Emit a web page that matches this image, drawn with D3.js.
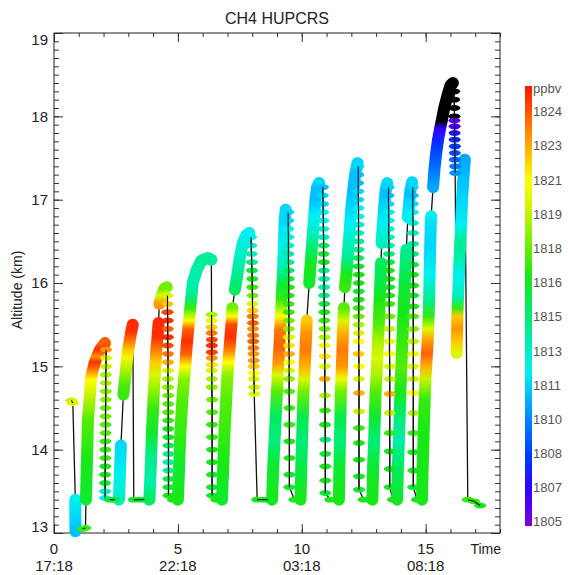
<!DOCTYPE html>
<html>
<head>
<meta charset="utf-8">
<script src="https://cdn.jsdelivr.net/npm/d3@7"></script>
<style>
  body { margin: 0; background: #fff; }
  svg { display: block; }
  text { font-family: "Liberation Sans", Arial, sans-serif; }
</style>
</head>
<body>
<div id="chart"></div>
<script>
// CH4 HUPCRS - flight curtain, altitude vs time coloured by CH4 (ppbv)

// each leg is a list of [time (h since 17:18), altitude (km), CH4 (ppbv)]
// dense legs are drawn as solid columns, sparse legs as single markers
const lvl0 = [[0.7,14.59,1819.5],[0.76,14.56,1820]];
const dsc0 = [[0.86,13.4,1812],[0.86,13.2,1811.5],[0.87,13.02,1811]];
const lvl1 = [[1.15,13.05,1817],[1.27,13.06,1817]];
const asc1 = [[1.29,13.4,1816],[1.33,13.88,1816.5],[1.37,14.36,1817.5],[1.45,14.66,1819.5],[1.49,14.84,1821],[1.57,14.96,1823.5],[1.65,15.05,1825],[1.74,15.12,1823],[1.86,15.2,1825],[2.06,15.28,1824]];
const dsc1 = [[2.1,15.2,1823],[2.1,15.1,1820],[2.1,15.0,1819.5],[2.09,14.9,1819],[2.09,14.8,1819],[2.09,14.7,1818.5],[2.09,14.6,1818.5],[2.08,14.5,1818],[2.08,14.4,1818],[2.08,14.3,1817.5],[2.08,14.2,1817.5],[2.07,14.1,1817],[2.07,14.0,1817],[2.07,13.9,1817],[2.07,13.8,1816.5],[2.06,13.7,1816.5],[2.06,13.6,1816],[2.06,13.5,1813],[2.06,13.42,1812]];
const lvl2 = [[2.25,13.4,1816],[2.45,13.4,1815.5]];
const asc2a = [[2.62,13.4,1813],[2.66,13.7,1812],[2.7,14.05,1811.5]];
const asc2b = [[2.8,14.66,1817],[2.85,14.8,1817.5],[2.9,14.95,1819],[2.95,15.1,1820.5],[3.0,15.2,1822],[3.05,15.3,1823.5],[3.12,15.42,1825],[3.18,15.5,1825]];
const lvl3 = [[3.22,13.4,1816],[3.45,13.4,1816],[3.65,13.4,1815.5]];
const asc3a = [[3.85,13.4,1815],[3.88,13.6,1813.5],[3.92,13.9,1814],[3.95,14.2,1816],[4.0,14.5,1817],[4.03,14.7,1818.5],[4.07,14.9,1820],[4.1,15.05,1822],[4.13,15.2,1823.5],[4.18,15.35,1825],[4.22,15.52,1825]];
const asc3b = [[4.25,15.75,1823],[4.35,15.85,1820],[4.45,15.93,1818],[4.55,15.95,1818]];
const dsc3 = [[4.58,15.85,1820],[4.58,15.75,1822],[4.58,15.65,1824.5],[4.59,15.55,1825],[4.59,15.45,1824],[4.59,15.35,1825],[4.59,15.25,1824.5],[4.6,15.15,1823.5],[4.6,15.05,1822.5],[4.6,14.95,1820],[4.6,14.85,1819],[4.6,14.75,1818.5],[4.61,14.65,1818],[4.61,14.55,1817.5],[4.61,14.45,1817.5],[4.61,14.35,1817],[4.61,14.25,1816.5],[4.62,14.15,1816],[4.62,14.05,1815],[4.62,13.95,1814],[4.62,13.85,1813.5],[4.62,13.75,1814],[4.62,13.65,1815.5],[4.62,13.55,1816],[4.62,13.45,1816.5]];
const lvl4 = [[4.8,13.4,1816.5]];
const asc4 = [[5.0,13.4,1816.5],[5.05,13.8,1816],[5.1,14.2,1817],[5.18,14.6,1817.5],[5.25,14.85,1818.5],[5.3,15.0,1821],[5.33,15.15,1824],[5.37,15.3,1825],[5.42,15.45,1824],[5.45,15.55,1821],[5.5,15.7,1817],[5.55,15.85,1814],[5.6,16.0,1813.5],[5.75,16.15,1813.5],[5.95,16.27,1814],[6.2,16.3,1814],[6.35,16.28,1813.5]];
const dsc4 = [[6.36,15.62,1819],[6.36,15.55,1820.5],[6.36,15.47,1822],[6.36,15.4,1823.5],[6.37,15.32,1824.5],[6.37,15.25,1825],[6.37,15.17,1824.5],[6.37,15.1,1823],[6.37,15.02,1821.5],[6.37,14.95,1820],[6.37,14.85,1819],[6.37,14.75,1818.5],[6.38,14.6,1818],[6.38,14.45,1817.5],[6.38,14.3,1817],[6.38,14.15,1817],[6.38,14.0,1816.5],[6.38,13.85,1816.5],[6.38,13.7,1816],[6.38,13.55,1816],[6.38,13.45,1816]];
const lvl5 = [[6.55,13.4,1816.5]];
const asc5a = [[6.78,13.4,1816],[6.83,13.8,1816.5],[6.88,14.2,1817],[6.95,14.6,1817.5],[7.0,14.9,1818.5],[7.04,15.05,1821],[7.08,15.2,1823.5],[7.12,15.35,1825],[7.16,15.5,1824.5],[7.18,15.6,1821],[7.2,15.7,1818]];
const asc5b = [[7.3,15.92,1815],[7.4,16.1,1814],[7.5,16.3,1813],[7.62,16.48,1812.5],[7.75,16.57,1812],[7.88,16.6,1812]];
const dsc5 = [[7.95,16.55,1812],[7.96,16.45,1812.5],[7.97,16.35,1813],[7.98,16.25,1814],[7.99,16.15,1815.5],[8.0,16.05,1816.5],[8.0,15.95,1817],[8.01,15.85,1818],[8.01,15.75,1820],[8.02,15.67,1822],[8.02,15.6,1823.5],[8.03,15.52,1824],[8.03,15.45,1823],[8.04,15.37,1823.5],[8.04,15.3,1824],[8.05,15.22,1823.5],[8.05,15.15,1823],[8.06,15.07,1823],[8.06,15.0,1822],[8.07,14.92,1821],[8.07,14.85,1820],[8.08,14.75,1819.5],[8.08,14.67,1820]];
const lvl6 = [[8.2,13.4,1816.5],[8.45,13.4,1816.5],[8.65,13.4,1816]];
const asc6 = [[8.8,13.4,1816.5],[8.85,13.8,1816],[8.9,14.1,1814.5],[8.95,14.4,1815],[9.0,14.7,1817.5],[9.03,14.9,1820],[9.06,15.05,1823],[9.1,15.25,1824],[9.13,15.45,1823.5],[9.16,15.6,1821],[9.19,15.8,1817],[9.22,16.0,1815.5],[9.25,16.2,1813],[9.28,16.5,1812],[9.31,16.75,1811.5],[9.35,16.88,1811.5]];
const dsc6 = [[9.45,16.85,1811.5],[9.45,16.75,1811.5],[9.45,16.65,1812],[9.46,16.55,1812.5],[9.46,16.45,1813],[9.46,16.35,1813.5],[9.46,16.25,1814],[9.47,16.15,1815],[9.47,16.05,1816],[9.47,15.95,1816.5],[9.47,15.85,1816.5],[9.47,15.75,1817],[9.48,15.65,1817],[9.48,15.55,1818],[9.48,15.45,1818.5],[9.48,15.35,1820],[9.48,15.25,1821.5],[9.49,15.15,1822.5],[9.49,15.05,1821],[9.49,14.95,1820],[9.49,14.85,1818.5],[9.49,14.7,1817.5],[9.5,14.5,1817],[9.5,14.3,1817],[9.5,14.1,1816.5],[9.5,13.9,1816.5],[9.5,13.7,1816],[9.5,13.55,1816]];
const lvl7 = [[9.7,13.4,1816.5]];
const asc7a = [[9.95,13.4,1816.5],[9.98,13.8,1815.5],[10.01,14.1,1814.5],[10.04,14.4,1815.5],[10.07,14.7,1818],[10.1,14.85,1820],[10.12,15.0,1822.5],[10.15,15.2,1823.5],[10.18,15.4,1823],[10.2,15.55,1822]];
const asc7b = [[10.3,16.0,1816],[10.35,16.2,1816.5],[10.4,16.4,1815],[10.45,16.6,1813],[10.5,16.8,1812],[10.55,17.0,1811],[10.62,17.15,1811],[10.7,17.2,1811.5]];
const dsc7 = [[10.85,17.15,1811],[10.85,17.05,1811.5],[10.86,16.95,1811.5],[10.86,16.85,1812],[10.87,16.75,1812],[10.87,16.65,1812.5],[10.88,16.55,1813],[10.88,16.45,1815],[10.88,16.35,1816],[10.89,16.25,1816.5],[10.89,16.15,1814],[10.9,16.05,1813.5],[10.9,15.95,1813.5],[10.9,15.85,1814],[10.91,15.75,1815.5],[10.91,15.65,1816.5],[10.91,15.55,1817],[10.92,15.45,1818],[10.92,15.35,1819],[10.92,15.25,1820.5],[10.93,15.12,1821.5],[10.93,15.0,1820],[10.93,14.85,1822.5],[10.94,14.65,1819],[10.94,14.47,1817],[10.94,14.3,1816.5],[10.95,14.12,1814.5],[10.95,13.95,1816],[10.95,13.8,1816.5],[10.95,13.63,1816.5],[10.95,13.48,1816]];
const lvl8 = [[11.15,13.4,1816.5]];
const asc8a = [[11.5,13.4,1816.5],[11.52,13.8,1816],[11.54,14.1,1814.5],[11.56,14.4,1815.5],[11.58,14.7,1818],[11.6,14.85,1820.5],[11.62,15.0,1823],[11.64,15.2,1823.5],[11.66,15.4,1822.5],[11.68,15.55,1820],[11.7,15.7,1817.5]];
const asc8b = [[11.74,15.95,1817],[11.8,16.1,1816.5],[11.85,16.3,1814],[11.9,16.5,1813],[11.95,16.7,1812],[12.0,16.9,1811.5],[12.07,17.1,1811],[12.15,17.3,1811],[12.25,17.44,1811.5]];
const dsc8 = [[12.28,17.4,1811.5],[12.28,17.3,1811],[12.28,17.2,1811],[12.28,17.1,1811.5],[12.28,17.0,1811.5],[12.29,16.9,1812],[12.29,16.8,1812],[12.29,16.7,1812.5],[12.29,16.6,1813],[12.29,16.5,1813.5],[12.29,16.4,1814],[12.29,16.3,1815],[12.29,16.2,1816],[12.3,16.1,1816.5],[12.3,16.0,1816.5],[12.3,15.9,1816],[12.3,15.8,1816.5],[12.3,15.7,1817],[12.3,15.6,1818],[12.3,15.5,1819],[12.3,15.4,1820],[12.3,15.3,1821],[12.3,15.15,1822],[12.31,15.0,1821],[12.31,14.85,1820],[12.31,14.68,1822.5],[12.31,14.46,1819.5],[12.31,14.26,1817],[12.31,14.08,1816.5],[12.31,13.88,1816.5],[12.31,13.68,1816],[12.31,13.52,1816]];
const lvl9 = [[12.5,13.4,1816.5]];
const asc9a = [[12.85,13.4,1816.5],[12.88,13.8,1816],[12.92,14.1,1814.5],[12.95,14.4,1816],[12.98,14.7,1817.5],[13.02,14.9,1819],[13.05,15.1,1820],[13.08,15.3,1819],[13.11,15.5,1817.5],[13.14,15.8,1816.5],[13.17,16.0,1815.5],[13.2,16.24,1815]];
const asc9b = [[13.22,16.48,1813],[13.27,16.7,1812],[13.32,16.9,1811.5],[13.38,17.1,1811],[13.45,17.2,1811.5]];
const dsc9 = [[13.5,17.15,1811.5],[13.5,17.05,1811],[13.5,16.95,1811.5],[13.51,16.85,1812],[13.51,16.75,1812],[13.51,16.65,1812.5],[13.51,16.55,1813],[13.52,16.45,1813.5],[13.52,16.35,1814.5],[13.52,16.25,1815.5],[13.52,16.15,1816.5],[13.53,16.05,1816.5],[13.53,15.95,1816],[13.53,15.85,1816.5],[13.53,15.75,1817],[13.54,15.6,1818],[13.54,15.45,1819.5],[13.54,15.3,1820.5],[13.54,15.15,1821],[13.55,15.0,1820],[13.55,14.85,1819.5],[13.55,14.67,1822.5],[13.55,14.44,1819.5],[13.55,14.2,1817],[13.55,13.98,1816.5],[13.55,13.77,1816.5],[13.55,13.55,1816]];
const lvl10 = [[13.68,13.4,1816.5]];
const asc10a = [[13.85,13.4,1816],[13.88,13.8,1815],[13.92,14.1,1813.5],[13.95,14.4,1814.5],[13.98,14.7,1816.5],[14.02,15.0,1817.5],[14.06,15.3,1817],[14.1,15.6,1816.5],[14.14,15.9,1816],[14.18,16.15,1815],[14.22,16.4,1814]];
const asc10b = [[14.28,16.79,1812],[14.33,16.95,1811.5],[14.38,17.1,1811],[14.45,17.21,1811.5]];
const dsc10 = [[14.48,17.15,1811.5],[14.48,17.05,1811],[14.48,16.95,1811.5],[14.48,16.85,1812],[14.49,16.72,1812.5],[14.49,16.6,1813],[14.49,16.47,1813.5],[14.49,16.35,1814.5],[14.49,16.22,1815.5],[14.49,16.1,1816.5],[14.5,15.97,1816.5],[14.5,15.85,1816],[14.5,15.72,1816.5],[14.5,15.6,1817.5],[14.5,15.45,1818.5],[14.5,15.3,1819.5],[14.5,15.15,1820.5],[14.5,15.0,1820],[14.5,14.85,1819.5],[14.5,14.68,1821],[14.5,14.44,1819],[14.5,14.2,1817],[14.5,13.97,1816.5],[14.5,13.75,1816.5],[14.5,13.55,1816]];
const lvl11 = [[14.65,13.4,1816.5]];
const asc11 = [[14.85,13.4,1816.5],[14.88,13.8,1816.5],[14.92,14.2,1816.5],[14.96,14.6,1817],[14.99,14.85,1819.5],[15.02,15.0,1822.5],[15.05,15.15,1824],[15.08,15.3,1823],[15.1,15.45,1820],[15.12,15.6,1817],[15.14,15.8,1814],[15.16,16.1,1812],[15.18,16.4,1811.5],[15.2,16.65,1811.5],[15.22,16.8,1812]];
const asc12 = [[15.3,17.15,1810.5],[15.35,17.35,1809.5],[15.42,17.55,1808.5],[15.5,17.72,1807.5],[15.58,17.85,1806.5],[15.65,17.95,1803],[15.75,18.1,1803],[15.88,18.25,1803],[16.0,18.37,1803],[16.1,18.4,1803]];
const dsc12 = [[16.15,18.3,1803],[16.15,18.2,1803],[16.16,18.1,1803],[16.16,18.0,1804],[16.16,17.95,1805.5],[16.17,17.88,1806],[16.17,17.8,1807],[16.17,17.72,1807.5],[16.18,17.64,1808],[16.18,17.56,1808.5],[16.18,17.48,1809],[16.19,17.4,1809.5],[16.19,17.32,1810]];
const asc13 = [[16.25,15.16,1820],[16.26,15.3,1822],[16.27,15.45,1823],[16.28,15.6,1822],[16.29,15.7,1817],[16.31,15.85,1813],[16.34,16.1,1812],[16.37,16.3,1813.5],[16.4,16.5,1814],[16.43,16.7,1812],[16.47,17.0,1811.5],[16.52,17.25,1811],[16.58,17.48,1810.5]];
const lvl13 = [[16.7,13.4,1817],[16.95,13.38,1817],[17.2,13.33,1816.5]];

// flight order (the black track joins them in this order)
const legs = [lvl0, dsc0, lvl1, asc1, dsc1, lvl2, asc2a, asc2b, lvl3, asc3a, asc3b, dsc3, lvl4,
  asc4, dsc4, lvl5, asc5a, asc5b, dsc5, lvl6, asc6, dsc6, lvl7, asc7a, asc7b, dsc7, lvl8,
  asc8a, asc8b, dsc8, lvl9, asc9a, asc9b, dsc9, lvl10, asc10a, asc10b, dsc10, lvl11,
  asc11, asc12, dsc12, asc13, lvl13];
const denseLegs = [dsc0, asc1, asc2a, asc2b, asc3a, asc3b, asc4, asc5a, asc5b, asc6,
  asc7a, asc7b, asc8a, asc8b, asc9a, asc9b, asc10a, asc10b, asc11, asc12, asc13];

// axes
const xMajor = [0, 5, 10, 15];
const xTickLabels = ['0', '5', '10', '15'];
const xTimeLabels = ['17:18', '22:18', '03:18', '08:18'];
const yMajor = [13, 14, 15, 16, 17, 18, 19];

// colour bar (IDL rainbow)
const cbStops = [1805, 1806.5, 1808, 1809.5, 1811, 1812, 1813.5, 1815, 1816.5, 1818, 1819.5, 1821, 1822.5, 1824, 1825.5];
const cbColours = ['#7a00e0', '#3200ff', '#0038ff', '#0078ff', '#00c0ff', '#00f0f0', '#00eeaa', '#00ec60', '#18e818', '#70f000', '#c8f400', '#ffff00', '#ffb000', '#ff6000', '#ff1400'];
const cbTickValues = [1805, 1806.6, 1808.2, 1809.8, 1811.4, 1813, 1814.6, 1816.2, 1817.8, 1819.4, 1821, 1822.6, 1824.2];
const cbRange = [1804.8, 1825.4];

const W = 568, H = 575;
const svg = d3.select('#chart').append('svg').attr('width', W).attr('height', H);
const defs = svg.append('defs');

const x = d3.scaleLinear().domain([0, 18]).range([54, 500]);
const y = d3.scaleLinear().domain([13, 19]).range([533, 33]);

const rainbow = d3.scaleLinear().domain(cbStops).range(cbColours).clamp(true);
const colour = v => v < 1804.9 ? '#000' : rainbow(v);

// ---- ticks (inward, IDL style) ----
const tickCol = '#333';
function ticks(axis, pos, vals, size) {
  svg.append('g').attr('transform', pos)
    .call(axis.tickValues(vals).tickSize(size).tickFormat(''))
    .call(g => g.select('.domain').remove())
    .call(g => g.selectAll('line').attr('stroke', tickCol));
}
const xMinor = d3.range(0, 19, 1);
const yMinor = d3.range(130, 191, 1).map(v => v / 10);
ticks(d3.axisBottom(x), 'translate(0,533)', xMinor, -4);
ticks(d3.axisBottom(x), 'translate(0,533)', xMajor, -9);
ticks(d3.axisTop(x), 'translate(0,33)', xMinor, -4);
ticks(d3.axisTop(x), 'translate(0,33)', xMajor, -9);
ticks(d3.axisLeft(y), 'translate(54,0)', yMinor, -5);
ticks(d3.axisLeft(y), 'translate(54,0)', yMajor, -9);
ticks(d3.axisRight(y), 'translate(500,0)', yMinor, -5);
ticks(d3.axisRight(y), 'translate(500,0)', yMajor, -9);

svg.append('rect').attr('x', 54).attr('y', 33).attr('width', 446).attr('height', 500)
  .attr('fill', 'none').attr('stroke', '#222').attr('stroke-width', 1);

// ---- labels ----
svg.append('text').attr('x', 277).attr('y', 24).attr('text-anchor', 'middle')
  .attr('font-size', 16).attr('fill', '#222').text('CH4  HUPCRS');

svg.selectAll('.ylab').data(yMajor).enter().append('text')
  .attr('x', 48).attr('y', d => Math.min(Math.max(y(d), 40), 527)).attr('dy', '0.36em')
  .attr('text-anchor', 'end').attr('font-size', 15).attr('fill', '#222').text(d => d);

svg.append('text').attr('transform', 'translate(22,290) rotate(-90)').attr('text-anchor', 'middle')
  .attr('font-size', 14).attr('fill', '#222').text('Altitude (km)');

svg.selectAll('.xlab').data(xMajor).enter().append('text')
  .attr('x', d => x(d)).attr('y', 554).attr('text-anchor', 'middle')
  .attr('font-size', 15).attr('fill', '#222').text((d, i) => xTickLabels[i]);
svg.selectAll('.tlab').data(xMajor).enter().append('text')
  .attr('x', d => x(d)).attr('y', 571).attr('text-anchor', 'middle')
  .attr('font-size', 15).attr('fill', '#222').text((d, i) => xTimeLabels[i]);
svg.append('text').attr('x', 501).attr('y', 554).attr('text-anchor', 'end')
  .attr('font-size', 14).attr('fill', '#222').text('Time');

// ---- flight track ----
const line = d3.line().x(d => x(d[0])).y(d => y(d[1]));
const plot = svg.append('g');
plot.append('path').attr('d', line(legs.flat())).attr('fill', 'none')
  .attr('stroke', '#111').attr('stroke-width', 1.3);

// dense legs: solid columns shaded by CH4 along altitude
denseLegs.forEach((leg, i) => {
  const ys = leg.map(p => y(p[1]));
  const y0 = d3.min(ys), y1 = d3.max(ys);
  const grad = defs.append('linearGradient').attr('id', 'leg' + i)
    .attr('gradientUnits', 'userSpaceOnUse')
    .attr('x1', 0).attr('x2', 0).attr('y1', y0).attr('y2', y1 > y0 ? y1 : y0 + 1);
  leg.slice().sort((a, b) => b[1] - a[1]).forEach(p => {
    grad.append('stop').attr('offset', y1 > y0 ? (y(p[1]) - y0) / (y1 - y0) : 0)
      .attr('stop-color', colour(p[2]));
  });
  plot.append('path').attr('d', line(leg)).attr('fill', 'none')
    .attr('stroke', `url(#leg${i})`).attr('stroke-width', 12)
    .attr('stroke-linecap', 'round').attr('stroke-linejoin', 'round');
});

// sparse legs: individual markers with the track over them
const sparseLegs = legs.filter(l => !denseLegs.includes(l));
plot.append('g').selectAll('ellipse').data(sparseLegs.flat()).enter().append('ellipse')
  .attr('cx', d => x(d[0])).attr('cy', d => y(d[1]))
  .attr('rx', 6).attr('ry', 2.9).attr('fill', d => colour(d[2]));
sparseLegs.filter(l => l.length > 1).forEach(leg => {
  plot.append('path').attr('d', line(leg)).attr('fill', 'none')
    .attr('stroke', '#111').attr('stroke-width', 1.1);
});

// ---- colour bar ----
const cb = d3.scaleLinear().domain(cbRange).range([526, 86]);
const cbGrad = defs.append('linearGradient').attr('id', 'cbar')
  .attr('x1', 0).attr('x2', 0).attr('y1', 1).attr('y2', 0);
cbStops.forEach(v => {
  cbGrad.append('stop').attr('offset', (v - cbRange[0]) / (cbRange[1] - cbRange[0]))
    .attr('stop-color', rainbow(v));
});
svg.append('rect').attr('x', 525).attr('y', 86).attr('width', 7).attr('height', 440)
  .attr('fill', 'url(#cbar)');
svg.selectAll('.cblab').data(cbTickValues).enter().append('text')
  .attr('x', 533).attr('y', d => cb(d)).attr('dy', '0.36em')
  .attr('font-size', 13).attr('fill', '#555').text(d => Math.round(d));
svg.append('text').attr('x', 533).attr('y', 88).attr('dy', '0.36em')
  .attr('font-size', 13).attr('fill', '#555').text('ppbv');
</script>
</body>
</html>
